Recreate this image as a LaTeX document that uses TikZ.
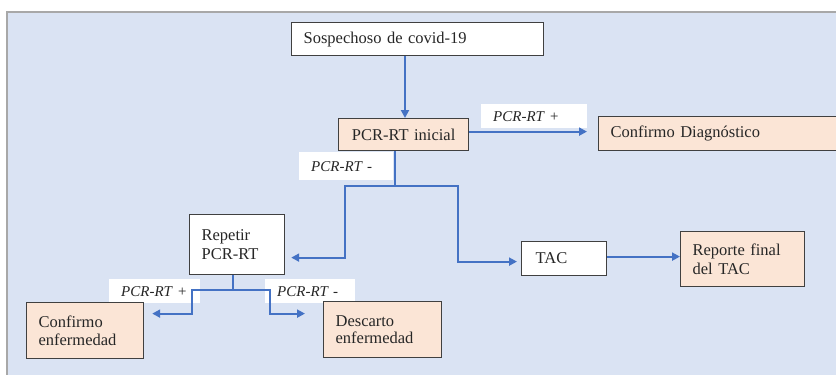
\documentclass[tikz,border=0pt]{standalone}
\usepackage{fontspec}
\setmainfont{Liberation Serif}
\usetikzlibrary{arrows.meta}
\definecolor{panelblue}{HTML}{DAE3F3}
\definecolor{panelline}{HTML}{A8A8A8}
\definecolor{peach}{HTML}{FBE5D6}
\definecolor{flowblue}{HTML}{4472C4}
\definecolor{boxline}{HTML}{404040}
\definecolor{ink}{HTML}{262626}
\tikzset{
  box/.style={draw=boxline, line width=1.2bp, anchor=north west, align=left,
    inner xsep=12bp, inner ysep=0bp, fill=white, text=ink,
    font=\fontsize{16.5bp}{18.5bp}\selectfont},
  peachbox/.style={box, fill=peach},
  tag/.style={fill=white, anchor=north west, align=left, inner xsep=12bp,
    inner ysep=0bp, text=ink, font=\fontsize{15bp}{18bp}\selectfont\itshape},
  flow/.style={draw=flowblue, line width=2bp},
  arr/.style={flow, -{Triangle[length=8bp,width=8bp]}}
}
\begin{document}
\begin{tikzpicture}[x=1bp,y=-1bp]
\useasboundingbox (0,0) rectangle (836,374);
% background panel
\fill[panelblue] (7,12) rectangle (850,390);
\draw[panelline, line width=1.5bp] (7,390) -- (7,12) -- (850,12);

% branch labels (drawn first so the connectors pass over them)
\node[tag, text width=82bp, minimum height=24bp] (t1) at (481,104) {PCR-RT +};
\node[tag, text width=70bp, minimum height=28bp] (t2) at (299,152) {PCR-RT -};
\node[tag, text width=67bp, minimum height=24bp] (t3) at (109,279) {PCR-RT +};
\node[tag, text width=66bp, minimum height=24bp] (t4) at (265,279) {PCR-RT -};

% boxes
\node[box, text width=228bp, minimum height=33bp] (sosp) at (291,22) {Sospechoso de covid-19};
\node[peachbox, align=center, text width=106bp, minimum height=32bp] (pcr) at (338,118) {PCR-RT inicial};
\node[peachbox, text width=223bp, minimum height=34bp] (diag) at (598,116) {Confirmo Diagnóstico};
\node[box, text width=71bp, minimum height=60bp] (rep) at (189,214) {Repetir\\PCR-RT\\[8bp]};
\node[box, inner xsep=14bp, text width=57bp, minimum height=34bp] (tac) at (521,241) {TAC};
\node[peachbox, text width=100bp, minimum height=55bp] (rfin) at (680,231) {Reporte final\\del TAC\\[7bp]};
\node[peachbox, text width=93bp, minimum height=56bp] (conf) at (26,302) {Confirmo\\enfermedad\\[6bp]};
\node[peachbox, text width=94bp, minimum height=56bp] (desc) at (323,301) {Descarto\\[-2bp]enfermedad\\[10bp]};

% junction points of the branching connectors
\coordinate (split) at (395,186);
\coordinate (jl) at (345,186);
\coordinate (jr) at (458,186);
\coordinate (stem) at (233,290);
\coordinate (bl) at (192,290);
\coordinate (br) at (270,290);

% connectors
\draw[arr] (sosp.south -| 405,0) -- (pcr.north -| 405,0);
\draw[arr, shorten >=11bp] ([yshift=3bp]pcr.east) -- ([yshift=3bp]pcr.east -| diag.west);
\draw[flow] (pcr.south -| split) -- (split);
\draw[arr, shorten >=6bp] (split) -- (jl) |- ([yshift=-13bp]rep.east);
\draw[arr, shorten >=4bp] (split) -- (jr) |- ([yshift=-3bp]tac.west);
\draw[arr] ([yshift=2bp]tac.east) -- ([yshift=2bp]tac.east -| rfin.west);
\draw[flow] (rep.south -| stem) -- (stem);
\draw[arr, shorten >=8bp] (stem) -- (bl) |- ([yshift=17bp]conf.east);
\draw[arr, shorten >=18bp] (stem) -- (br) |- ([yshift=16bp]desc.west);
\end{tikzpicture}
\end{document}
